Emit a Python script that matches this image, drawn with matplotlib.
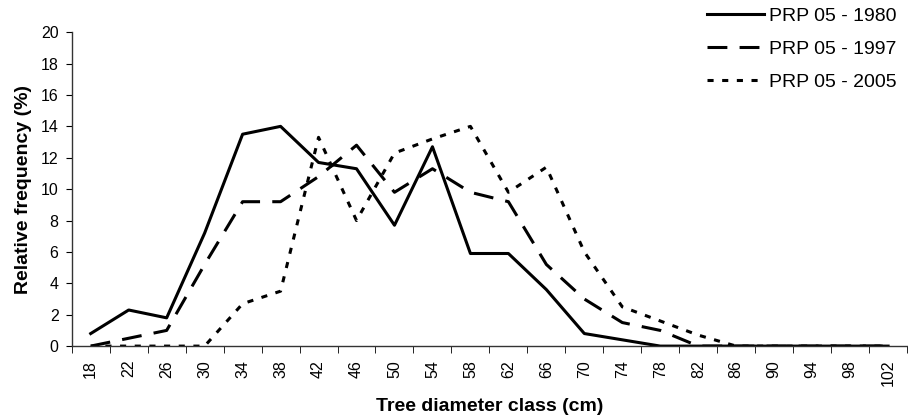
import matplotlib
matplotlib.use('Agg')
import matplotlib.pyplot as plt
import numpy as np

plt.rcParams['font.family'] = ['Liberation Sans', 'DejaVu Sans']

# Data
classes = [18, 22, 26, 30, 34, 38, 42, 46, 50, 54, 58, 62, 66, 70, 74, 78, 82, 86, 90, 94, 98, 102]
freq_1980 = [0.8, 2.3, 1.8, 7.2, 13.5, 14.0, 11.7, 11.3, 7.7, 12.7, 5.9, 5.9, 3.6, 0.8, 0.4, 0.0,
             0.0, 0.0, 0.0, 0.0, 0.0, 0.0]
freq_1997 = [0.0, 0.5, 1.0, 5.2, 9.2, 9.2, 10.8, 12.8, 9.8, 11.3, 9.8, 9.2, 5.2, 3.0, 1.5, 1.0,
             0.0, 0.0, 0.0, 0.0, 0.0, 0.0]
freq_2005 = [0.0, 0.0, 0.0, 0.0, 2.7, 3.5, 13.3, 8.0, 12.3, 13.2, 14.0, 9.8, 11.4, 6.0, 2.5, 1.6,
             0.7, 0.0, 0.0, 0.0, 0.0, 0.0]
labels = ['PRP 05 - 1980', 'PRP 05 - 1997', 'PRP 05 - 2005']

fig = plt.figure(figsize=(9.08, 4.18), dpi=100)
ax = fig.add_axes([0.079, 0.172, 0.92, 0.751])

x = np.arange(len(classes))
ax.plot(x, freq_1980, color='black', lw=2.2, label=labels[0])
ax.plot(x, freq_1997, color='black', lw=2.2, dashes=(6.5, 4), label=labels[1])
ax.plot(x, freq_2005, color='black', lw=2.2, dashes=(2, 2.8), label=labels[2])

ax.set_xlim(-0.5, len(classes) - 0.5)
ax.set_ylim(0, 20)
ax.set_yticks(np.arange(0, 21, 2))
ax.set_xticks(x)
ax.set_xticklabels([str(c) for c in classes], rotation=90)
ax.set_xticks(np.arange(-0.5, len(classes), 1), minor=True)
ax.tick_params(axis='x', which='major', length=0, pad=10, labelsize=11.5)
ax.tick_params(axis='x', which='minor', length=5, direction='out')
ax.tick_params(axis='y', length=4, direction='out', pad=5.5, labelsize=11.5)

for s in ['top', 'right']:
    ax.spines[s].set_visible(False)
for s in ['left', 'bottom']:
    ax.spines[s].set_linewidth(1.0)
    ax.spines[s].set_color('#333333')

ax.set_xlabel('Tree diameter class (cm)', fontsize=14, fontweight='bold', labelpad=8)
ax.set_ylabel('Relative frequency (%)', fontsize=14, fontweight='bold', labelpad=6.5)

leg = fig.legend(loc='upper right', bbox_to_anchor=(1.0, 1.01), frameon=False, fontsize=14,
                 handlelength=2.9, handletextpad=0.25, labelspacing=0.78, borderaxespad=0.2)

fig.savefig('out.png', dpi=100)
